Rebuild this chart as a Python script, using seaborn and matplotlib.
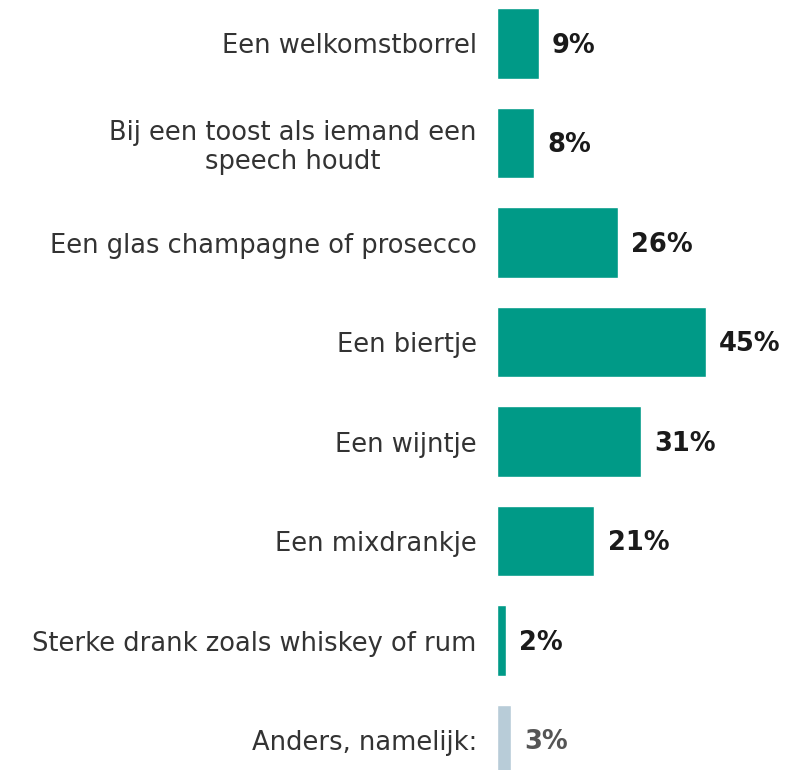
import matplotlib
matplotlib.use('Agg')
import matplotlib.pyplot as plt
import seaborn as sns
import pandas as pd
import numpy as np

categorieen = ['Een welkomstborrel',
               'Bij een toost als iemand een\nspeech houdt',
               'Een glas champagne of prosecco',
               'Een biertje',
               'Een wijntje',
               'Een mixdrankje',
               'Sterke drank zoals whiskey of rum',
               'Anders, namelijk:']
percentages = [9, 8, 26, 45, 31, 21, 2, 3]
kleuren = ['#009A87'] * 7 + ['#B8CCD8']
label_kleuren = ['#1a1a1a'] * 7 + ['#555555']

df = pd.DataFrame({'cat': categorieen, 'pct': percentages})

sns.set_style('white')
plt.rcParams['font.family'] = ['DejaVu Sans']

fig = plt.figure(figsize=(7.95, 7.7), dpi=100)
ax = fig.add_axes([497 / 795, 0, 298 / 795, 1])

sns.barplot(data=df, x='pct', y='cat', hue='cat', palette=kleuren, legend=False,
            width=0.71, orient='h', ax=ax, saturation=1)

ax.set_xlim(0, 298 / 4.64)
ax.set_ylim(7.30, -0.437)
ax.set_xlabel('')
ax.set_ylabel('')
ax.set_xticks([])
sns.despine(ax=ax, left=True, bottom=True)
ax.tick_params(axis='y', length=0, pad=14.5, labelsize=18.5, labelcolor='#333333')
for t in ax.get_yticklabels():
    t.set_multialignment('center')
    t.set_linespacing(1.15)

for i, (p, c) in enumerate(zip(percentages, label_kleuren)):
    ax.annotate(f'{p}%', xy=(p, i), xytext=(9.5, -1.5), textcoords='offset points',
                ha='left', va='center', fontsize=18.5, fontweight='bold', color=c)

fig.savefig('out.png', dpi=100)
